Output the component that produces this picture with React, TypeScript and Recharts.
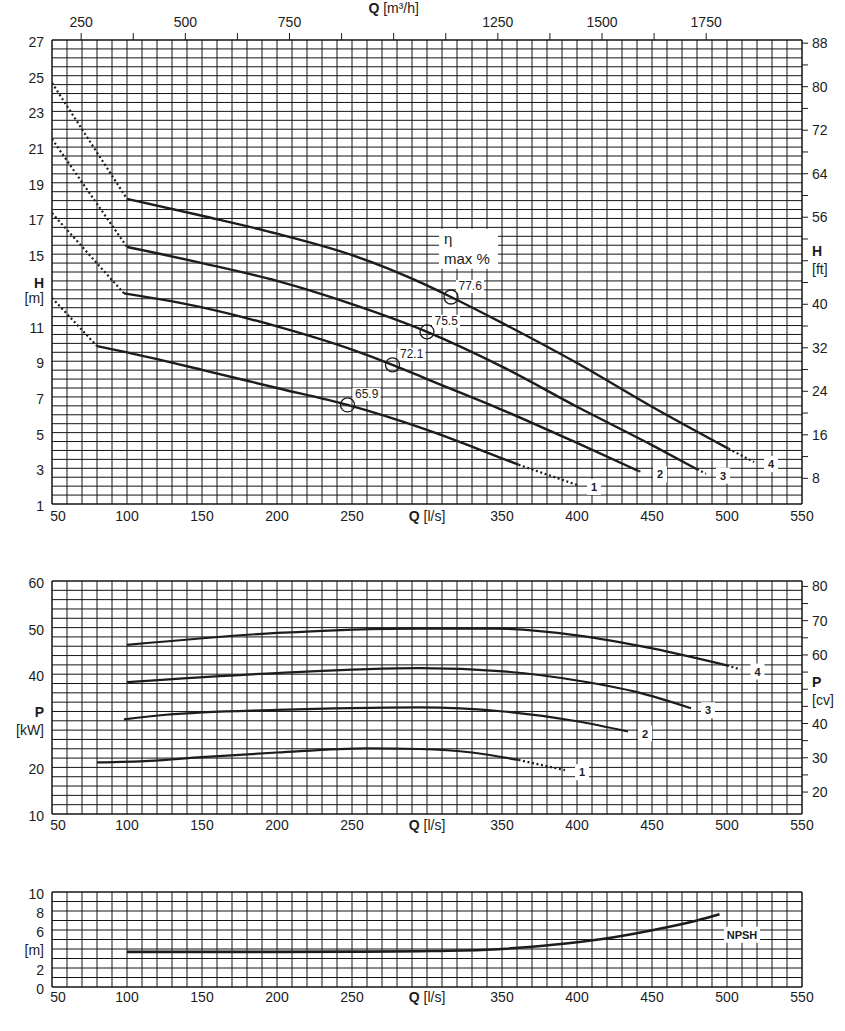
import React from 'react';
import { ComposedChart, Line, XAxis, YAxis, CartesianGrid, ReferenceDot, ReferenceArea } from 'recharts';

const FONT = '"Liberation Sans", Arial, Helvetica, sans-serif';
const INK = '#1c1c1c';
const GRID = '#151515';

type Pt = [number, number];

// unit conversions used by the secondary axes
const LS_TO_M3H = 3.6;
const M_TO_FT = 1 / 0.3048;
const KW_TO_CV = 1 / 0.7355;

const range = (from: number, to: number, step: number): number[] => {
  const out: number[] = [];
  for (let i = 0; from + i * step <= to + 1e-9; i++) out.push(+(from + i * step).toFixed(3));
  return out;
};

// flow axis Q [l/s], shared by the three panels
const qGrid = range(50, 550, 10);
const qLabels = [50, 100, 150, 200, 250, 350, 400, 450, 500, 550];
const qTitleTick = 300;

// head panel axes
const hGrid = range(1, 27, 0.5);
const hLabels = [1, 3, 5, 7, 9, 11, 15, 17, 19, 21, 23, 25, 27];
const hTitleTick = 13;
const ftTicks = range(8, 88, 4);
const ftLabels = [8, 16, 24, 32, 40, 56, 64, 72, 80, 88];
const ftTitleTick = 48;
const m3hTicks = range(250, 1750, 125);
const m3hLabels = [250, 500, 750, 1250, 1500, 1750];
const m3hTitleTick = 1000;

// power panel axes
const pGrid = range(10, 60, 2);
const pLabels = [10, 20, 40, 50, 60];
const pTitleTick = 30;
const cvTicks = range(20, 80, 5);
const cvLabels = [20, 30, 40, 60, 70, 80];
const cvTitleTick = 50;

// npsh panel axes
const nGrid = range(0, 10, 1);
const nLabels = [0, 2, 6, 8, 10];
const nTitleTick = 4;

// H-Q curves: dotted start, solid body, dotted end
const head1Start: Pt[] = [[50, 12.55], [80, 9.85]];
const head1: Pt[] = [[80, 9.85], [100, 9.5], [150, 8.52], [200, 7.5], [247, 6.55], [300, 5.15], [335, 4.05], [361, 3.2]];
const head1End: Pt[] = [[361, 3.2], [400, 2.07]];

const head2Start: Pt[] = [[50, 17.3], [98, 12.8]];
const head2: Pt[] = [[98, 12.8], [150, 12.02], [200, 10.95], [250, 9.65], [277, 8.8], [300, 8.0], [350, 6.28], [400, 4.42], [441, 2.85]];
const head2End: Pt[] = [[441, 2.85], [444, 2.78]];

const head3Start: Pt[] = [[50, 21.45], [100, 15.4]];
const head3: Pt[] = [[100, 15.4], [150, 14.5], [200, 13.5], [250, 12.2], [300, 10.65], [350, 8.7], [400, 6.45], [450, 4.3], [480, 2.95]];
const head3End: Pt[] = [[480, 2.95], [486, 2.7]];

const head4Start: Pt[] = [[50, 24.6], [100, 18.1]];
const head4: Pt[] = [[100, 18.1], [150, 17.15], [200, 16.15], [250, 14.95], [300, 13.25], [316, 12.6], [350, 11.15], [400, 8.9], [450, 6.45], [501, 4.1]];
const head4End: Pt[] = [[501, 4.1], [518, 3.35]];

// best efficiency points
const etaQ = [247, 277, 300, 316];
const etaH = [6.55, 8.8, 10.65, 12.6];
const etaText = ['65.9', '72.1', '75.5', '77.6'];

// P-Q curves
const power1: Pt[] = [[80, 21.06], [115, 21.4], [150, 22.2], [200, 23.2], [260, 24.1], [295, 23.95], [330, 23.2], [361, 21.6]];
const power1End: Pt[] = [[361, 21.6], [392, 19.4]];
const power2: Pt[] = [[98, 30.3], [126, 31.3], [200, 32.35], [295, 32.9], [351, 32.0], [400, 29.9], [434, 27.7]];
const power3: Pt[] = [[100, 38.3], [200, 40.25], [295, 41.3], [351, 40.6], [400, 38.65], [440, 36.15], [476, 32.7]];
const power4: Pt[] = [[100, 46.3], [200, 48.85], [295, 49.8], [344, 49.8], [400, 48.35], [451, 45.5], [500, 41.9]];
const power4End: Pt[] = [[500, 41.9], [509, 41.0]];

// NPSH curve
const npsh: Pt[] = [[100, 3.7], [150, 3.7], [200, 3.7], [250, 3.72], [295, 3.77], [340, 3.92], [384, 4.45], [417, 5.05], [451, 6.0], [480, 7.0], [495, 7.65]];

const curveNames = ['1', '2', '3', '4'];
const headEnds: Pt[] = [head1End[1], head2End[1], head3End[1], head4End[1]];
const powerEnds: Pt[] = [power1End[1], power2[power2.length - 1], power3[power3.length - 1], power4End[1]];

const toData = (pts: Pt[]) => pts.map(([x, y]) => ({ x, y }));

// the largest curve in m3/h and ft, drawn invisibly so the secondary axes get a scale
const head4Imperial = toData([...head4Start, ...head4, ...head4End].map(([q, h]) => [q * LS_TO_M3H, h * M_TO_FT] as Pt));

const curve = (pts: Pt[], key: string, yId: string, dotted = false, width = 2.4) => (
  <Line
    key={key}
    xAxisId="q"
    yAxisId={yId}
    data={toData(pts)}
    dataKey="y"
    type={dotted ? 'linear' : 'monotone'}
    stroke={INK}
    strokeWidth={dotted ? 2.2 : width}
    strokeDasharray={dotted ? '2 2.6' : undefined}
    dot={false}
    activeDot={false}
    isAnimationActive={false}
  />
);

const txt = { fontFamily: FONT, fill: INK } as const;

const qTick = (gap: number) => (props: any) => {
  const { x, y, payload } = props;
  const v = payload.value;
  if (v === qTitleTick)
    return (
      <text x={x} y={y + gap} textAnchor="middle" fontSize={14} {...txt}>
        <tspan fontWeight="bold">Q</tspan> [l/s]
      </text>
    );
  if (!qLabels.includes(v)) return <g />;
  return (
    <text x={v === 50 ? x + 6 : x} y={y + gap} textAnchor="middle" fontSize={14} {...txt}>
      {v}
    </text>
  );
};

const m3hTick = (props: any) => {
  const { x, y, payload } = props;
  const v = payload.value;
  if (v === m3hTitleTick)
    return (
      <text x={x} y={y - 16} textAnchor="middle" fontSize={14} {...txt}>
        <tspan fontWeight="bold">Q</tspan> [m³/h]
      </text>
    );
  if (!m3hLabels.includes(v)) return <g />;
  return (
    <text x={x} y={y - 2} textAnchor="middle" fontSize={14} {...txt}>
      {v}
    </text>
  );
};

const sideTick =
  (anchor: 'start' | 'end', labels: number[], titleAt: number, title: string, unit: string, titleDy: number, unitDy: number, labelDy: number) =>
  (props: any) => {
    const { x, y, payload } = props;
    const v = payload.value;
    if (v === titleAt)
      return (
        <g>
          {title && (
            <text x={x} y={y + titleDy} textAnchor={anchor} fontSize={14} fontWeight="bold" {...txt}>
              {title}
            </text>
          )}
          <text x={x} y={y + unitDy} textAnchor={anchor} fontSize={14} {...txt}>
            {unit}
          </text>
        </g>
      );
    if (!labels.includes(v)) return <g />;
    return (
      <text x={x} y={y + labelDy} textAnchor={anchor} fontSize={14} {...txt}>
        {v}
      </text>
    );
  };

const EtaMark = (props: any) => {
  const { cx, cy, text } = props;
  return (
    <g>
      <rect x={cx + 5} y={cy - 17} width={28} height={13} fill="#fff" />
      <text x={cx + 7.5} y={cy - 6.5} fontSize={12} {...txt}>
        {text}
      </text>
      <circle cx={cx} cy={cy} r={7} fill="none" stroke={INK} strokeWidth={1.3} />
    </g>
  );
};

const EndMark = (props: any) => {
  const { cx, cy, text } = props;
  return (
    <g>
      <rect x={cx + 10} y={cy - 6} width={14} height={16} fill="#fff" />
      <text x={cx + 17} y={cy + 6} textAnchor="middle" fontSize={11} fontWeight="bold" {...txt}>
        {text}
      </text>
    </g>
  );
};

const EtaTitle = (props: any) => {
  const { cx, cy } = props;
  return (
    <g>
      <rect x={cx - 3} y={cy - 20} width={59} height={40} fill="#fff" />
      <text x={cx + 2} y={cy - 4.5} fontSize={15} {...txt}>
        η
      </text>
      <text x={cx + 2} y={cy + 15} fontSize={15} {...txt}>
        max %
      </text>
    </g>
  );
};

const NpshTitle = (props: any) => {
  const { cx, cy } = props;
  return (
    <g>
      <rect x={cx - 18} y={cy - 8} width={36} height={16} fill="#fff" />
      <text x={cx} y={cy + 4} textAnchor="middle" fontSize={11} fontWeight="bold" {...txt}>
        NPSH
      </text>
    </g>
  );
};

const zero = { top: 0, right: 0, bottom: 0, left: 0 };

const qAxis = (height: number, gap: number) => (
  <XAxis
    xAxisId="q"
    dataKey="x"
    type="number"
    domain={[50, 550]}
    ticks={qGrid}
    interval={0}
    allowDataOverflow
    axisLine={false}
    tickLine={false}
    tickSize={0}
    tickMargin={0}
    height={height}
    tick={qTick(gap)}
  />
);

const HeadChart = () => (
  <ComposedChart width={845} height={530} margin={zero}>
    {qAxis(26, 17)}
    <XAxis
      xAxisId="m3h"
      orientation="top"
      dataKey="x"
      type="number"
      domain={[50 * LS_TO_M3H, 550 * LS_TO_M3H]}
      ticks={m3hTicks}
      interval={0}
      allowDataOverflow
      axisLine={false}
      tickLine={{ stroke: INK }}
      tickSize={7}
      tickMargin={4}
      height={40}
      tick={m3hTick}
    />
    <YAxis
      yAxisId="h"
      dataKey="y"
      type="number"
      domain={[1, 27]}
      ticks={hGrid}
      interval={0}
      allowDataOverflow
      axisLine={false}
      tickLine={false}
      tickSize={0}
      tickMargin={8}
      width={52}
      tick={sideTick('end', hLabels, hTitleTick, 'H', '[m]', -2, 13, 7)}
    />
    <YAxis
      yAxisId="ft"
      orientation="right"
      dataKey="y"
      type="number"
      domain={[1 * M_TO_FT, 27 * M_TO_FT]}
      ticks={ftTicks}
      interval={0}
      allowDataOverflow
      axisLine={false}
      tickLine={{ stroke: INK }}
      tickSize={6}
      tickMargin={4}
      width={43}
      tick={sideTick('start', ftLabels, ftTitleTick, 'H', '[ft]', -5, 13, 5)}
    />
    <CartesianGrid xAxisId="q" yAxisId="h" stroke={GRID} strokeWidth={1} fill="none" />
    <ReferenceArea xAxisId="q" yAxisId="h" x1={50} x2={550} y1={1} y2={27} fill="none" stroke={GRID} strokeWidth={1} />
    <Line
      xAxisId="m3h"
      yAxisId="ft"
      data={head4Imperial}
      dataKey="y"
      stroke="none"
      strokeOpacity={0}
      dot={false}
      activeDot={false}
      isAnimationActive={false}
    />
    {[head1Start, head2Start, head3Start, head4Start].map((p, i) => curve(p, `hs${i}`, 'h', true))}
    {[head1, head2, head3, head4].map((p, i) => curve(p, `h${i}`, 'h'))}
    {[head1End, head2End, head3End, head4End].map((p, i) => curve(p, `he${i}`, 'h', true))}
    {etaQ.map((q, i) => (
      <ReferenceDot key={`eta${i}`} xAxisId="q" yAxisId="h" x={q} y={etaH[i]} r={7} shape={(p: any) => <EtaMark {...p} text={etaText[i]} />} />
    ))}
    {headEnds.map(([q, h], i) => (
      <ReferenceDot key={`hn${i}`} xAxisId="q" yAxisId="h" x={q} y={h} r={0} shape={(p: any) => <EndMark {...p} text={curveNames[i]} />} />
    ))}
    <ReferenceDot xAxisId="q" yAxisId="h" x={310} y={15.3} r={0} shape={(p: any) => <EtaTitle {...p} />} />
  </ComposedChart>
);

const PowerChart = () => (
  <ComposedChart width={845} height={280} margin={{ top: 21, right: 0, bottom: 0, left: 0 }}>
    {qAxis(26, 16)}
    <YAxis
      yAxisId="p"
      dataKey="y"
      type="number"
      domain={[10, 60]}
      ticks={pGrid}
      interval={0}
      allowDataOverflow
      axisLine={false}
      tickLine={false}
      tickSize={0}
      tickMargin={8}
      width={52}
      tick={sideTick('end', pLabels, pTitleTick, 'P', '[kW]', -4, 14, 7)}
    />
    <YAxis
      yAxisId="cv"
      orientation="right"
      type="number"
      domain={[10 * KW_TO_CV, 60 * KW_TO_CV]}
      ticks={cvTicks}
      interval={0}
      allowDataOverflow
      axisLine={false}
      tickLine={{ stroke: INK }}
      tickSize={6}
      tickMargin={4}
      width={43}
      tick={sideTick('start', cvLabels, cvTitleTick, 'P', '[cv]', -2, 16, 5)}
    />
    <CartesianGrid xAxisId="q" yAxisId="p" stroke={GRID} strokeWidth={1} fill="none" />
    <ReferenceArea xAxisId="q" yAxisId="p" x1={50} x2={550} y1={10} y2={60} fill="none" stroke={GRID} strokeWidth={1} />
    {[power1, power2, power3, power4].map((p, i) => curve(p, `p${i}`, 'p', false, 2.2))}
    {[power1End, power4End].map((p, i) => curve(p, `pe${i}`, 'p', true))}
    {powerEnds.map(([q, v], i) => (
      <ReferenceDot key={`pn${i}`} xAxisId="q" yAxisId="p" x={q} y={v} r={0} shape={(p: any) => <EndMark {...p} text={curveNames[i]} />} />
    ))}
  </ComposedChart>
);

const NpshChart = () => (
  <ComposedChart width={845} height={150} margin={{ top: 22, right: 43, bottom: 0, left: 0 }}>
    {qAxis(33, 15)}
    <YAxis
      yAxisId="n"
      dataKey="y"
      type="number"
      domain={[0, 10]}
      ticks={nGrid}
      interval={0}
      allowDataOverflow
      axisLine={false}
      tickLine={false}
      tickSize={0}
      tickMargin={8}
      width={52}
      tick={sideTick('end', nLabels, nTitleTick, '', '[m]', 0, 6, 7)}
    />
    <CartesianGrid xAxisId="q" yAxisId="n" stroke={GRID} strokeWidth={1} fill="none" />
    <ReferenceArea xAxisId="q" yAxisId="n" x1={50} x2={550} y1={0} y2={10} fill="none" stroke={GRID} strokeWidth={1} />
    {curve(npsh, 'npsh', 'n', false, 2.6)}
    <ReferenceDot xAxisId="q" yAxisId="n" x={510} y={5.5} r={0} shape={(p: any) => <NpshTitle {...p} />} />
  </ComposedChart>
);

export default function App() {
  return (
    <div style={{ position: 'absolute', left: 0, top: 0, width: 845, height: 1031, background: '#fff', fontFamily: FONT }}>
      <div style={{ position: 'absolute', left: 0, top: 0 }}>
        <HeadChart />
      </div>
      <div style={{ position: 'absolute', left: 0, top: 560 }}>
        <PowerChart />
      </div>
      <div style={{ position: 'absolute', left: 0, top: 870 }}>
        <NpshChart />
      </div>
    </div>
  );
}
